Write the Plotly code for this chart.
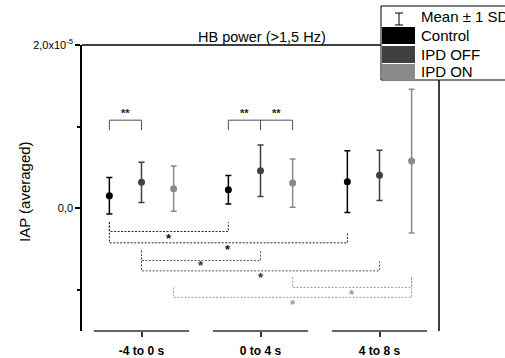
import plotly.graph_objects as go

# ---- data (values in units of 1e-5) ----
groups = ["-4 to 0 s", "0 to 4 s", "4 to 8 s"]
series = ["Control", "IPD OFF", "IPD ON"]
control_mean = [0.156, 0.229, 0.328]
control_sd = [0.223, 0.174, 0.377]
ipd_off_mean = [0.319, 0.462, 0.405]
ipd_off_sd = [0.245, 0.315, 0.307]
ipd_on_mean = [0.242, 0.310, 0.580]
ipd_on_sd = [0.276, 0.295, 0.880]
SCALE = 1e-5

means = [control_mean, ipd_off_mean, ipd_on_mean]
sds = [control_sd, ipd_off_sd, ipd_on_sd]
colors = ["#000000", "#404040", "#8a8a8a"]
offsets = [-0.27, 0.0, 0.27]

# significance brackets below: (group_a, series_a, group_b, series_b, y_top_a, y_top_b, y_h, color)
low_brackets = [
    (0, 0, 1, 0, -0.168, -0.168, -0.282, "#222222"),
    (0, 0, 2, 0, -0.168, -0.303, -0.421, "#222222"),
    (0, 1, 1, 1, -0.515, -0.515, -0.638, "#555555"),
    (0, 1, 2, 1, -0.515, -0.647, -0.764, "#555555"),
    (1, 2, 2, 2, -0.843, -0.843, -0.966, "#9a9a9a"),
    (0, 2, 2, 2, -0.966, -0.843, -1.088, "#9a9a9a"),
]
low_star_y = [-0.37, -0.505, -0.70, -0.84, -1.05, -1.17]
low_star_color = ["#111111", "#111111", "#333333", "#333333", "#999999", "#999999"]


def xpos(g, s):
    return g + 1 + offsets[s]


fig = go.Figure()
for s in range(3):
    fig.add_trace(go.Scatter(
        x=[xpos(g, s) for g in range(3)],
        y=[m * SCALE for m in means[s]],
        mode="markers",
        marker=dict(color=colors[s], size=7),
        error_y=dict(type="data", array=[d * SCALE for d in sds[s]], visible=True,
                     color=colors[s], thickness=1.5, width=3),
        name=series[s], showlegend=False,
    ))

shapes = []
annotations = []

# lower dashed brackets
for i, (ga, sa, gb, sb, ya, yb, yh, col) in enumerate(low_brackets):
    xa, xb = xpos(ga, sa), xpos(gb, sb)
    fig.add_trace(go.Scatter(
        x=[xa, xa, xb, xb], y=[ya * SCALE, yh * SCALE, yh * SCALE, yb * SCALE],
        mode="lines", line=dict(color=col, width=1, dash="2px,1.5px"),
        showlegend=False, hoverinfo="skip"))
    annotations.append(dict(x=(xa + xb) / 2, y=low_star_y[i] * SCALE, xref="x", yref="y",
                            text="<b>*</b>", showarrow=False,
                            font=dict(size=13, color=low_star_color[i]), yanchor="middle"))

# upper solid brackets
top_h, top_end = 1.08, 0.957
fig.add_trace(go.Scatter(
    x=[xpos(0, 0), xpos(0, 0), xpos(0, 1), xpos(0, 1)],
    y=[top_end * SCALE, top_h * SCALE, top_h * SCALE, top_end * SCALE],
    mode="lines", line=dict(color="#505050", width=1), showlegend=False, hoverinfo="skip"))
fig.add_trace(go.Scatter(
    x=[xpos(1, 0), xpos(1, 0), xpos(1, 2), xpos(1, 2)],
    y=[top_end * SCALE, top_h * SCALE, top_h * SCALE, top_end * SCALE],
    mode="lines", line=dict(color="#505050", width=1), showlegend=False, hoverinfo="skip"))
fig.add_trace(go.Scatter(
    x=[xpos(1, 1), xpos(1, 1)], y=[top_h * SCALE, top_end * SCALE],
    mode="lines", line=dict(color="#505050", width=1), showlegend=False, hoverinfo="skip"))
top_stars = [((xpos(0, 0) + xpos(0, 1)) / 2), ((xpos(1, 0) + xpos(1, 1)) / 2), ((xpos(1, 1) + xpos(1, 2)) / 2)]
for xs in top_stars:
    annotations.append(dict(x=xs, y=1.17 * SCALE, xref="x", yref="y", text="<b>**</b>", showarrow=False,
                            font=dict(size=11, color="#222222"), yanchor="middle"))

# x axis segments
for g in range(3):
    shapes.append(dict(type="line", xref="x", yref="paper", x0=g + 1 - 0.4, x1=g + 1 + 0.4, y0=0, y1=0,
                       line=dict(color="#333333", width=1.5)))

# frame (top + right)
L, R, T, B = 82, 439, 45, 331


def px(x):
    return (x - L) / (R - L)


def py(y):
    return (B - y) / (B - T)


shapes.append(dict(type="line", xref="paper", yref="paper", x0=0, x1=1, y0=1, y1=1,
                   line=dict(color="#000000", width=1.5)))
shapes.append(dict(type="line", xref="paper", yref="paper", x0=1, x1=1, y0=0, y1=1,
                   line=dict(color="#000000", width=1.5)))

# legend box (manual)
shapes.append(dict(type="rect", xref="paper", yref="paper", x0=px(381), x1=px(515), y0=py(80), y1=py(6),
                   fillcolor="white", line=dict(color="#000000", width=1), layer="above"))
# error-bar glyph
shapes.append(dict(type="line", xref="paper", yref="paper", x0=px(399), x1=px(399), y0=py(13), y1=py(25),
                   line=dict(color="#000000", width=1), layer="above"))
for yy in (13, 25):
    shapes.append(dict(type="line", xref="paper", yref="paper", x0=px(395), x1=px(403), y0=py(yy), y1=py(yy),
                       line=dict(color="#000000", width=1), layer="above"))
sw = [(27, 44), (46, 63), (64, 80)]
for s in range(3):
    shapes.append(dict(type="rect", xref="paper", yref="paper", x0=px(382), x1=px(415),
                       y0=py(sw[s][1]), y1=py(sw[s][0]), fillcolor=colors[s],
                       line=dict(color=colors[s], width=0), layer="above"))
legend_texts = ["Mean ± 1 SD"] + series
legend_y = [17, 35.5, 54.5, 72]
for t, yy in zip(legend_texts, legend_y):
    annotations.append(dict(x=px(419), y=py(yy), xref="paper", yref="paper", text=t, showarrow=False,
                            xanchor="left", yanchor="middle", font=dict(size=15, color="#000000")))

# title and y-axis title
annotations.append(dict(x=px(262), y=py(37), xref="paper", yref="paper", text="HB power (>1,5 Hz)",
                        showarrow=False, xanchor="center", yanchor="middle",
                        font=dict(size=14.5, color="#000000")))
annotations.append(dict(x=px(24), y=py(192), xref="paper", yref="paper", text="IAP (averaged)",
                        showarrow=False, xanchor="center", yanchor="middle", textangle=-90,
                        font=dict(size=15, color="#000000")))

fig.update_layout(
    width=505, height=358,
    margin=dict(l=L, r=505 - R, t=T, b=358 - B),
    paper_bgcolor="white", plot_bgcolor="white",
    font=dict(family="Liberation Sans, Arial, sans-serif", color="#000000"),
    shapes=shapes, annotations=annotations,
    xaxis=dict(range=[0.5, 3.5], tickvals=[1, 2, 3], ticktext=["<b>%s</b>" % g for g in groups],
               showline=False, showgrid=False, zeroline=False, ticks="outside", ticklen=5,
               tickcolor="#333333", tickwidth=1.5, tickfont=dict(size=12), ticklabelstandoff=4,
               automargin=False),
    yaxis=dict(range=[-1.5 * SCALE, 2.0 * SCALE], tickvals=[0, 2 * SCALE],
               ticktext=["0,0", "2,0x10<sup>-5</sup>"], showline=True, linecolor="#000000", linewidth=1.5,
               showgrid=False, zeroline=False, ticks="outside", ticklen=5, tickwidth=1.5,
               tickcolor="#000000", tickfont=dict(size=11), automargin=False,
               minor=dict(tickvals=[-1 * SCALE, 1 * SCALE], ticks="outside", ticklen=3,
                          tickcolor="#000000", tickwidth=1.5)),
)

fig.write_html("out.html")
